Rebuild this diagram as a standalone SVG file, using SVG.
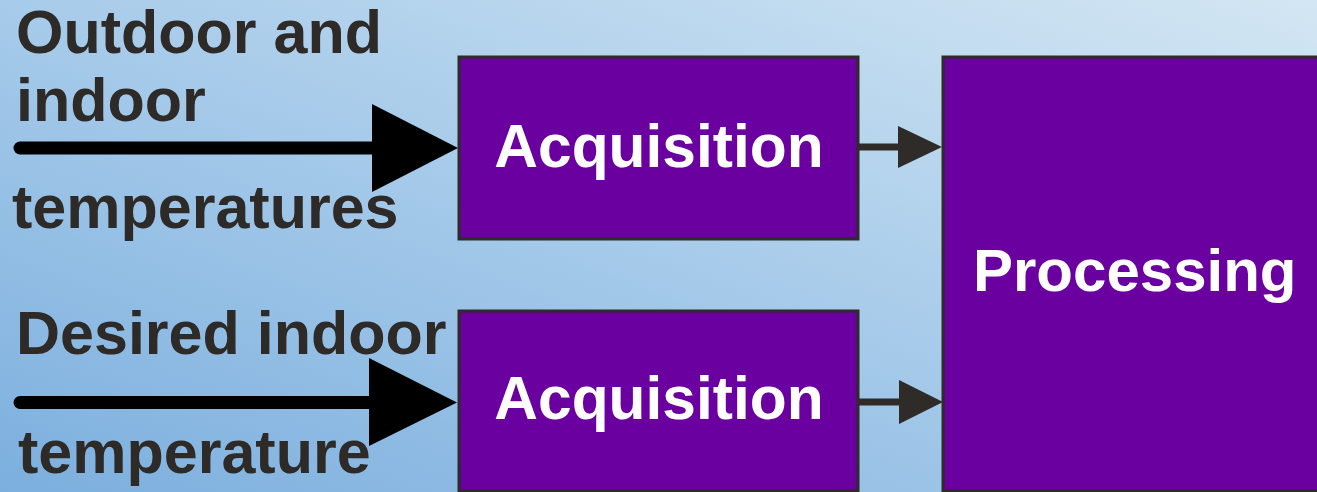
<svg xmlns="http://www.w3.org/2000/svg" width="1317" height="492" viewBox="0 0 1317 492">
<defs>
<linearGradient id="bg" x1="1" y1="0" x2="0" y2="1">
<stop offset="0" stop-color="#d3e6f3"/>
<stop offset="0.5" stop-color="#a7cbea"/>
<stop offset="1" stop-color="#7cafde"/>
</linearGradient>
</defs>
<style>
.box{fill:#6a009f;stroke:#2e2b28;stroke-width:3}
.lbl{font-family:"Liberation Sans",Arial,sans-serif;font-weight:bold;font-size:61px;fill:#2d2a27}
.w{font-family:"Liberation Sans",Arial,sans-serif;font-weight:bold;font-size:60.5px;fill:#ffffff}
.in{stroke:#000;stroke-width:13;stroke-linecap:round;fill:none}
.out{stroke:#2e2b28;stroke-width:7;fill:none}
</style>
<rect x="0" y="0" width="1317" height="492" fill="url(#bg)"/>
<g id="labels">
<text class="lbl" x="16" y="53">Outdoor and</text>
<text class="lbl" x="16" y="121">indoor</text>
<text class="lbl" x="12" y="228">temperatures</text>
<text class="lbl" x="16" y="354">Desired indoor</text>
<text class="lbl" x="18" y="473">temperature</text>
</g>
<g id="acq1">
<rect class="box" x="459" y="57" width="399" height="182"/>
<text class="w" x="659" y="167" text-anchor="middle">Acquisition</text>
</g>
<g id="acq2">
<rect class="box" x="459" y="311" width="399" height="180"/>
<text class="w" x="659" y="419" text-anchor="middle">Acquisition</text>
</g>
<g id="proc">
<rect class="box" x="943" y="57" width="390" height="434"/>
<text class="w" x="973" y="291" style="font-size:60px">Processing</text>
</g>
<g id="connectors">
<line class="in" x1="20" y1="148" x2="375" y2="148"/>
<polygon points="372,104 458,148 372,192" fill="#000"/>
<line class="in" x1="20" y1="402.5" x2="372" y2="402.5"/>
<polygon points="369,358 457,402.5 369,446" fill="#000"/>
<line class="out" x1="858" y1="147" x2="900" y2="147"/>
<polygon points="898,126 942,147 898,168" fill="#2e2b28"/>
<line class="out" x1="858" y1="402" x2="901" y2="402"/>
<polygon points="899,380 943,402 899,424" fill="#2e2b28"/>
</g>
</svg>
